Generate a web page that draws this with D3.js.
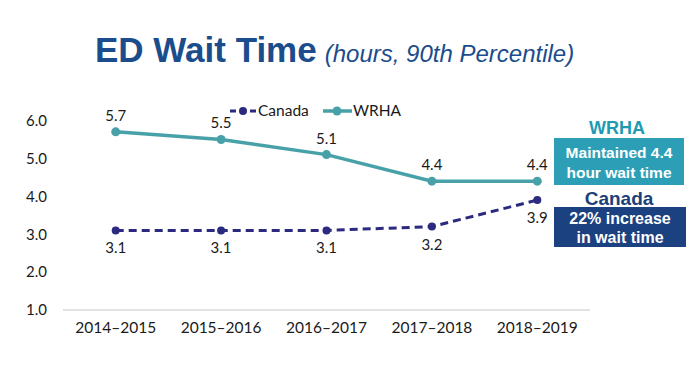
<!DOCTYPE html>
<html><head><meta charset="utf-8">
<script src="https://cdn.jsdelivr.net/npm/d3@7"></script>
<style>body{margin:0;background:#fff}svg{display:block}</style>
</head><body>
<script>
const categories = ["2014–2015","2015–2016","2016–2017","2017–2018","2018–2019"];
const canada = [3.1, 3.1, 3.1, 3.2, 3.9];
const wrha = [5.7, 5.5, 5.1, 4.4, 4.4];
const yTicks = [1.0, 2.0, 3.0, 4.0, 5.0, 6.0];

const W = 700, H = 377;
const svg = d3.select("body").append("svg").attr("width", W).attr("height", H);
const labelFont = "Lato, 'Open Sans', sans-serif";

const x = d3.scaleBand().domain(categories).range([63, 590]);
const y = d3.scaleLinear().domain([1, 6]).range([310, 120.5]);
const cx = d => x(d) + x.bandwidth() / 2;

// Title
const title = svg.append("text").attr("x", 95).attr("y", 62)
  .attr("font-family", "'Liberation Sans', Arial, sans-serif").attr("fill", "#1B4C8C");
title.append("tspan").attr("font-weight", "bold").attr("font-size", 35).text("ED Wait Time");
title.append("tspan").attr("font-style", "italic").attr("font-size", 24).attr("dx", 8).text("(hours, 90th Percentile)");

// baseline
svg.append("line").attr("x1", 63).attr("x2", 590).attr("y1", y(1)).attr("y2", y(1))
  .attr("stroke", "#D9D9D9").attr("stroke-width", 1.5);

// y axis
const yAxis = d3.axisLeft(y).tickValues(yTicks).tickFormat(d3.format(".1f")).tickSize(0).tickPadding(0);
const ya = svg.append("g").attr("transform", "translate(47,0)").call(yAxis);
ya.select(".domain").remove();
ya.selectAll("text").attr("font-family", labelFont).attr("font-size", 15).attr("fill", "#1a1a1a");

// x axis
const xAxis = d3.axisBottom(x).tickSize(0).tickPadding(0);
const xa = svg.append("g").attr("transform", "translate(0,322)").call(xAxis);
xa.select(".domain").remove();
xa.selectAll("text").attr("font-family", labelFont).attr("font-size", 15.5).attr("fill", "#1a1a1a");

// lines
const line = d3.line().x((d, i) => cx(categories[i])).y(d => y(d));
const wrhaColor = "#48A1A9", canColor = "#2B2A80";

svg.append("path").datum(wrha).attr("d", line).attr("fill", "none")
  .attr("stroke", wrhaColor).attr("stroke-width", 3.5);
svg.selectAll(".wp").data(wrha).enter().append("circle")
  .attr("cx", (d, i) => cx(categories[i])).attr("cy", d => y(d)).attr("r", 4.5).attr("fill", wrhaColor);

svg.append("path").datum(canada).attr("d", line).attr("fill", "none")
  .attr("stroke", canColor).attr("stroke-width", 3).attr("stroke-dasharray", "8,5");
svg.selectAll(".cp").data(canada).enter().append("circle")
  .attr("cx", (d, i) => cx(categories[i])).attr("cy", d => y(d)).attr("r", 4).attr("fill", canColor);

// data labels
svg.selectAll(".wl").data(wrha).enter().append("text")
  .attr("x", (d, i) => cx(categories[i])).attr("y", d => y(d) - 11)
  .attr("text-anchor", "middle").attr("font-family", labelFont).attr("font-size", 15).attr("fill", "#1a1a1a")
  .text(d => d3.format(".1f")(d));
svg.selectAll(".cl").data(canada).enter().append("text")
  .attr("x", (d, i) => cx(categories[i])).attr("y", d => y(d) + 23)
  .attr("text-anchor", "middle").attr("font-family", labelFont).attr("font-size", 15).attr("fill", "#1a1a1a")
  .text(d => d3.format(".1f")(d));

// legend
const lg = svg.append("g");
lg.append("line").attr("x1", 230).attr("x2", 257).attr("y1", 111).attr("y2", 111)
  .attr("stroke", canColor).attr("stroke-width", 3).attr("stroke-dasharray", "6,4");
lg.append("circle").attr("cx", 243).attr("cy", 111).attr("r", 4).attr("fill", canColor);
lg.append("text").attr("x", 258).attr("y", 116).attr("font-family", labelFont).attr("font-size", 15.5)
  .attr("fill", "#1a1a1a").text("Canada");
lg.append("line").attr("x1", 323).attr("x2", 352).attr("y1", 111).attr("y2", 111)
  .attr("stroke", wrhaColor).attr("stroke-width", 3.5);
lg.append("circle").attr("cx", 337).attr("cy", 111).attr("r", 4.5).attr("fill", wrhaColor);
lg.append("text").attr("x", 353).attr("y", 116).attr("font-family", labelFont).attr("font-size", 15.5)
  .attr("fill", "#1a1a1a").text("WRHA");

// annotation boxes
const annFont = "'Liberation Sans', Arial, sans-serif";
svg.append("text").attr("x", 617).attr("y", 134).attr("text-anchor", "middle")
  .attr("font-family", annFont).attr("font-weight", "bold").attr("font-size", 18).attr("fill", "#1E9BB3").text("WRHA");
svg.append("rect").attr("x", 554).attr("y", 138).attr("width", 130).attr("height", 47).attr("fill", "#2C9FB7");
svg.append("text").attr("x", 619).attr("y", 158).attr("text-anchor", "middle")
  .attr("font-family", annFont).attr("font-weight", "bold").attr("font-size", 15.5).attr("fill", "#fff").text("Maintained 4.4");
svg.append("text").attr("x", 619).attr("y", 178).attr("text-anchor", "middle")
  .attr("font-family", annFont).attr("font-weight", "bold").attr("font-size", 15.5).attr("fill", "#fff").text("hour wait time");

svg.append("text").attr("x", 619).attr("y", 205).attr("text-anchor", "middle")
  .attr("font-family", annFont).attr("font-weight", "bold").attr("font-size", 19).attr("fill", "#1C3F78").text("Canada");
svg.append("rect").attr("x", 554).attr("y", 207).attr("width", 132).attr("height", 40).attr("fill", "#1C4180");
svg.append("text").attr("x", 620).attr("y", 224).attr("text-anchor", "middle")
  .attr("font-family", annFont).attr("font-weight", "bold").attr("font-size", 16).attr("fill", "#fff").text("22% increase");
svg.append("text").attr("x", 620).attr("y", 243).attr("text-anchor", "middle")
  .attr("font-family", annFont).attr("font-weight", "bold").attr("font-size", 16).attr("fill", "#fff").text("in wait time");
</script>
</body></html>
